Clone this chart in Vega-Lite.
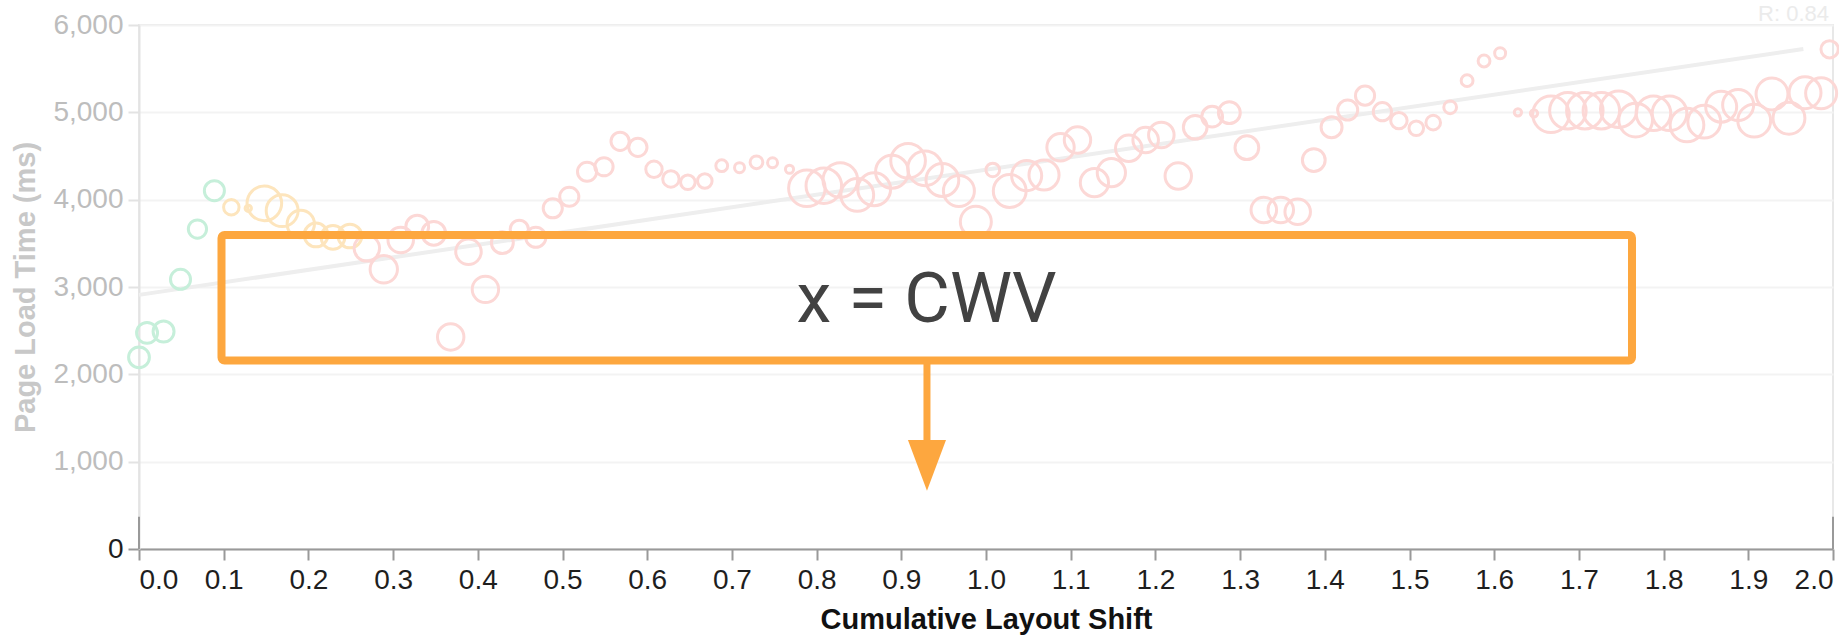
{
  "$schema": "https://vega.github.io/schema/vega-lite/v6.json",
  "width": 1694,
  "height": 524,
  "autosize": {"type": "none"},
  "padding": {"left": 139, "top": 25, "right": 6, "bottom": 86},
  "background": "white",
  "config": {"view": {"stroke": "#e8e8e8", "strokeWidth": 2}, "font": "Liberation Sans"},
  "datasets": {
    "trend": [{"cls": 0, "plt": 2910}, {"cls": 1.965, "plt": 5725}],
    "edges": [{"cls": 0, "plt": 0, "plt2": 370}, {"cls": 2, "plt": 0, "plt2": 370}],
    "pages": [
      {"cls": 0.000, "plt": 2195, "sessions": 1300, "rating": "Good"},
      {"cls": 0.0095, "plt": 2475, "sessions": 1320, "rating": "Good"},
      {"cls": 0.029, "plt": 2490, "sessions": 1320, "rating": "Good"},
      {"cls": 0.049, "plt": 3088, "sessions": 1210, "rating": "Good"},
      {"cls": 0.069, "plt": 3664, "sessions": 1000, "rating": "Good"},
      {"cls": 0.089, "plt": 4103, "sessions": 1210, "rating": "Good"},
      {"cls": 0.109, "plt": 3913, "sessions": 720, "rating": "Needs Improvement"},
      {"cls": 0.129, "plt": 3901, "sessions": 120, "rating": "Needs Improvement"},
      {"cls": 0.148, "plt": 3958, "sessions": 3610, "rating": "Needs Improvement"},
      {"cls": 0.169, "plt": 3874, "sessions": 3060, "rating": "Needs Improvement"},
      {"cls": 0.191, "plt": 3722, "sessions": 2250, "rating": "Needs Improvement"},
      {"cls": 0.209, "plt": 3596, "sessions": 1690, "rating": "Needs Improvement"},
      {"cls": 0.229, "plt": 3569, "sessions": 1690, "rating": "Needs Improvement"},
      {"cls": 0.249, "plt": 3584, "sessions": 1690, "rating": "Needs Improvement"},
      {"cls": 0.269, "plt": 3443, "sessions": 1960, "rating": "Poor"},
      {"cls": 0.289, "plt": 3203, "sessions": 2250, "rating": "Poor"},
      {"cls": 0.309, "plt": 3538, "sessions": 1960, "rating": "Poor"},
      {"cls": 0.3285, "plt": 3691, "sessions": 1560, "rating": "Poor"},
      {"cls": 0.348, "plt": 3615, "sessions": 1690, "rating": "Poor"},
      {"cls": 0.368, "plt": 2428, "sessions": 2100, "rating": "Poor"},
      {"cls": 0.389, "plt": 3404, "sessions": 1960, "rating": "Poor"},
      {"cls": 0.409, "plt": 2973, "sessions": 2100, "rating": "Poor"},
      {"cls": 0.429, "plt": 3508, "sessions": 1440, "rating": "Poor"},
      {"cls": 0.449, "plt": 3661, "sessions": 1000, "rating": "Poor"},
      {"cls": 0.4685, "plt": 3569, "sessions": 1210, "rating": "Poor"},
      {"cls": 0.4885, "plt": 3901, "sessions": 1100, "rating": "Poor"},
      {"cls": 0.508, "plt": 4034, "sessions": 1100, "rating": "Poor"},
      {"cls": 0.529, "plt": 4320, "sessions": 1100, "rating": "Poor"},
      {"cls": 0.549, "plt": 4377, "sessions": 1000, "rating": "Poor"},
      {"cls": 0.568, "plt": 4668, "sessions": 1000, "rating": "Poor"},
      {"cls": 0.589, "plt": 4600, "sessions": 1000, "rating": "Poor"},
      {"cls": 0.608, "plt": 4348, "sessions": 810, "rating": "Poor"},
      {"cls": 0.628, "plt": 4237, "sessions": 810, "rating": "Poor"},
      {"cls": 0.648, "plt": 4199, "sessions": 640, "rating": "Poor"},
      {"cls": 0.668, "plt": 4214, "sessions": 640, "rating": "Poor"},
      {"cls": 0.688, "plt": 4389, "sessions": 420, "rating": "Poor"},
      {"cls": 0.709, "plt": 4366, "sessions": 300, "rating": "Poor"},
      {"cls": 0.729, "plt": 4428, "sessions": 490, "rating": "Poor"},
      {"cls": 0.748, "plt": 4423, "sessions": 300, "rating": "Poor"},
      {"cls": 0.768, "plt": 4348, "sessions": 200, "rating": "Poor"},
      {"cls": 0.7885, "plt": 4130, "sessions": 4000, "rating": "Poor"},
      {"cls": 0.8085, "plt": 4160, "sessions": 3800, "rating": "Poor"},
      {"cls": 0.828, "plt": 4225, "sessions": 3610, "rating": "Poor"},
      {"cls": 0.848, "plt": 4054, "sessions": 3240, "rating": "Poor"},
      {"cls": 0.868, "plt": 4119, "sessions": 3240, "rating": "Poor"},
      {"cls": 0.889, "plt": 4320, "sessions": 3240, "rating": "Poor"},
      {"cls": 0.908, "plt": 4446, "sessions": 3610, "rating": "Poor"},
      {"cls": 0.928, "plt": 4359, "sessions": 3610, "rating": "Poor"},
      {"cls": 0.9485, "plt": 4225, "sessions": 3240, "rating": "Poor"},
      {"cls": 0.968, "plt": 4099, "sessions": 2890, "rating": "Poor"},
      {"cls": 0.988, "plt": 3748, "sessions": 2890, "rating": "Poor"},
      {"cls": 1.008, "plt": 4340, "sessions": 560, "rating": "Poor"},
      {"cls": 1.028, "plt": 4099, "sessions": 3240, "rating": "Poor"},
      {"cls": 1.048, "plt": 4275, "sessions": 2720, "rating": "Poor"},
      {"cls": 1.0685, "plt": 4283, "sessions": 2720, "rating": "Poor"},
      {"cls": 1.088, "plt": 4600, "sessions": 2250, "rating": "Poor"},
      {"cls": 1.108, "plt": 4683, "sessions": 2100, "rating": "Poor"},
      {"cls": 1.128, "plt": 4195, "sessions": 2400, "rating": "Poor"},
      {"cls": 1.148, "plt": 4309, "sessions": 2400, "rating": "Poor"},
      {"cls": 1.1685, "plt": 4588, "sessions": 2100, "rating": "Poor"},
      {"cls": 1.1885, "plt": 4683, "sessions": 1960, "rating": "Poor"},
      {"cls": 1.207, "plt": 4741, "sessions": 1960, "rating": "Poor"},
      {"cls": 1.227, "plt": 4271, "sessions": 2100, "rating": "Poor"},
      {"cls": 1.247, "plt": 4829, "sessions": 1690, "rating": "Poor"},
      {"cls": 1.267, "plt": 4950, "sessions": 1300, "rating": "Poor"},
      {"cls": 1.2873, "plt": 4996, "sessions": 1440, "rating": "Poor"},
      {"cls": 1.308, "plt": 4595, "sessions": 1690, "rating": "Poor"},
      {"cls": 1.328, "plt": 3882, "sessions": 1960, "rating": "Poor"},
      {"cls": 1.348, "plt": 3882, "sessions": 1960, "rating": "Poor"},
      {"cls": 1.368, "plt": 3862, "sessions": 1960, "rating": "Poor"},
      {"cls": 1.387, "plt": 4454, "sessions": 1560, "rating": "Poor"},
      {"cls": 1.408, "plt": 4829, "sessions": 1320, "rating": "Poor"},
      {"cls": 1.427, "plt": 5027, "sessions": 1210, "rating": "Poor"},
      {"cls": 1.4475, "plt": 5191, "sessions": 1100, "rating": "Poor"},
      {"cls": 1.468, "plt": 5008, "sessions": 1000, "rating": "Poor"},
      {"cls": 1.4875, "plt": 4905, "sessions": 810, "rating": "Poor"},
      {"cls": 1.508, "plt": 4817, "sessions": 640, "rating": "Poor"},
      {"cls": 1.528, "plt": 4882, "sessions": 640, "rating": "Poor"},
      {"cls": 1.548, "plt": 5058, "sessions": 490, "rating": "Poor"},
      {"cls": 1.568, "plt": 5363, "sessions": 420, "rating": "Poor"},
      {"cls": 1.588, "plt": 5588, "sessions": 420, "rating": "Poor"},
      {"cls": 1.607, "plt": 5676, "sessions": 360, "rating": "Poor"},
      {"cls": 1.628, "plt": 5000, "sessions": 160, "rating": "Poor"},
      {"cls": 1.647, "plt": 4989, "sessions": 160, "rating": "Poor"},
      {"cls": 1.667, "plt": 4977, "sessions": 4000, "rating": "Poor"},
      {"cls": 1.687, "plt": 5019, "sessions": 4000, "rating": "Poor"},
      {"cls": 1.707, "plt": 5019, "sessions": 4000, "rating": "Poor"},
      {"cls": 1.7265, "plt": 5019, "sessions": 4000, "rating": "Poor"},
      {"cls": 1.747, "plt": 5035, "sessions": 4000, "rating": "Poor"},
      {"cls": 1.767, "plt": 4912, "sessions": 3420, "rating": "Poor"},
      {"cls": 1.788, "plt": 4989, "sessions": 3610, "rating": "Poor"},
      {"cls": 1.807, "plt": 4989, "sessions": 3610, "rating": "Poor"},
      {"cls": 1.8276, "plt": 4855, "sessions": 3420, "rating": "Poor"},
      {"cls": 1.848, "plt": 4893, "sessions": 3240, "rating": "Poor"},
      {"cls": 1.868, "plt": 5065, "sessions": 2890, "rating": "Poor"},
      {"cls": 1.888, "plt": 5084, "sessions": 2890, "rating": "Poor"},
      {"cls": 1.907, "plt": 4905, "sessions": 3240, "rating": "Poor"},
      {"cls": 1.928, "plt": 5210, "sessions": 3060, "rating": "Poor"},
      {"cls": 1.948, "plt": 4932, "sessions": 3060, "rating": "Poor"},
      {"cls": 1.967, "plt": 5225, "sessions": 3060, "rating": "Poor"},
      {"cls": 1.986, "plt": 5218, "sessions": 2890, "rating": "Poor"},
      {"cls": 1.996, "plt": 5722, "sessions": 900, "rating": "Poor"}
    ],
    "box": [{"cls": 0.0974, "cls2": 1.7627, "plt": 3595, "plt2": 2158}],
    "label": [{"cls": 0.9298, "plt": 2603, "text": "x = CWV"}],
    "shaft": [{"cls": 0.9303, "plt": 2158, "plt2": 1248}],
    "head": [{"cls": 0.9303, "plt": 958}],
    "stat": [{"cls": 2, "plt": 6000, "text": "R: 0.84"}]
  },
  "layer": [
    {
      "data": {"name": "trend"},
      "mark": {"type": "line", "color": "#eeeeee", "strokeWidth": 4},
      "encoding": {
        "x": {
          "field": "cls", "type": "quantitative",
          "scale": {"domain": [0, 2], "nice": false, "zero": false},
          "axis": {
            "title": "Cumulative Layout Shift",
            "values": [0, 0.1, 0.2, 0.3, 0.4, 0.5, 0.6, 0.7, 0.8, 0.9, 1.0, 1.1, 1.2, 1.3, 1.4, 1.5, 1.6, 1.7, 1.8, 1.9, 2.0],
            "format": ".1f",
            "grid": false,
            "labelFontSize": 28, "labelColor": "#1e1e1e", "labelPadding": 6, "labelFlush": true, "labelOverlap": false,
            "tickSize": 11, "tickWidth": 2, "tickColor": "#999999",
            "domainColor": "#999999", "domainWidth": 2,
            "titleFontSize": 29, "titleFontWeight": "bold", "titleColor": "#111111", "titlePadding": 11
          }
        },
        "y": {
          "field": "plt", "type": "quantitative",
          "scale": {"domain": [0, 6000], "nice": false},
          "axis": {
            "title": "Page Load Time (ms)",
            "values": [0, 1000, 2000, 3000, 4000, 5000, 6000],
            "format": ",.0f",
            "grid": true, "gridColor": "#f3f3f3", "gridWidth": 2,
            "labelFontSize": 28, "labelPadding": 5,
            "labelColor": {"condition": {"test": "datum.value === 0", "value": "#1e1e1e"}, "value": "#bdbdbd"},
            "tickColor": {"condition": {"test": "datum.value === 0", "value": "#999999"}, "value": "#e3e3e3"},
            "tickSize": 11, "tickWidth": 2,
            "domainColor": "#e3e3e3", "domainWidth": 2,
            "titleFontSize": 29, "titleFontWeight": "bold", "titleColor": "#c8c8c8", "titlePadding": 12
          }
        }
      }
    },
    {
      "data": {"name": "edges"},
      "mark": {"type": "rule", "color": "#999999", "strokeWidth": 2},
      "encoding": {
        "x": {"field": "cls", "type": "quantitative"},
        "y": {"field": "plt", "type": "quantitative"},
        "y2": {"field": "plt2"}
      }
    },
    {
      "data": {"name": "pages"},
      "mark": {"type": "point", "filled": false, "strokeWidth": 3, "opacity": 1},
      "encoding": {
        "x": {"field": "cls", "type": "quantitative"},
        "y": {"field": "plt", "type": "quantitative"},
        "size": {"field": "sessions", "type": "quantitative", "scale": {"domain": [0, 4000], "range": [0, 1330], "zero": true}, "legend": null},
        "color": {"field": "rating", "type": "nominal", "scale": {"domain": ["Good", "Needs Improvement", "Poor"], "range": ["#c6efda", "#fde5bd", "#fcd8d6"]}, "legend": null}
      }
    },
    {
      "data": {"name": "stat"},
      "mark": {"type": "text", "align": "right", "baseline": "alphabetic", "dx": -4, "dy": -4, "fontSize": 22, "color": "#ebebeb"},
      "encoding": {
        "x": {"field": "cls", "type": "quantitative"},
        "y": {"field": "plt", "type": "quantitative"},
        "text": {"field": "text"}
      }
    },
    {
      "data": {"name": "box"},
      "mark": {"type": "rect", "fill": "transparent", "stroke": "#fda73f", "strokeWidth": 8, "cornerRadius": 3},
      "encoding": {
        "x": {"field": "cls", "type": "quantitative"},
        "x2": {"field": "cls2"},
        "y": {"field": "plt", "type": "quantitative"},
        "y2": {"field": "plt2"}
      }
    },
    {
      "data": {"name": "label"},
      "mark": {"type": "text", "align": "center", "baseline": "alphabetic", "font": "Roboto", "fontSize": 70, "color": "#424242"},
      "encoding": {
        "x": {"field": "cls", "type": "quantitative"},
        "y": {"field": "plt", "type": "quantitative"},
        "text": {"field": "text"}
      }
    },
    {
      "data": {"name": "shaft"},
      "mark": {"type": "rule", "color": "#fda73f", "strokeWidth": 7},
      "encoding": {
        "x": {"field": "cls", "type": "quantitative"},
        "y": {"field": "plt", "type": "quantitative"},
        "y2": {"field": "plt2"}
      }
    },
    {
      "data": {"name": "head"},
      "mark": {"type": "point", "shape": "M-0.75,-1L0.75,-1L0,1Z", "filled": true, "size": 2570, "color": "#fda73f", "opacity": 1, "strokeWidth": 0},
      "encoding": {
        "x": {"field": "cls", "type": "quantitative"},
        "y": {"field": "plt", "type": "quantitative"}
      }
    }
  ]
}
